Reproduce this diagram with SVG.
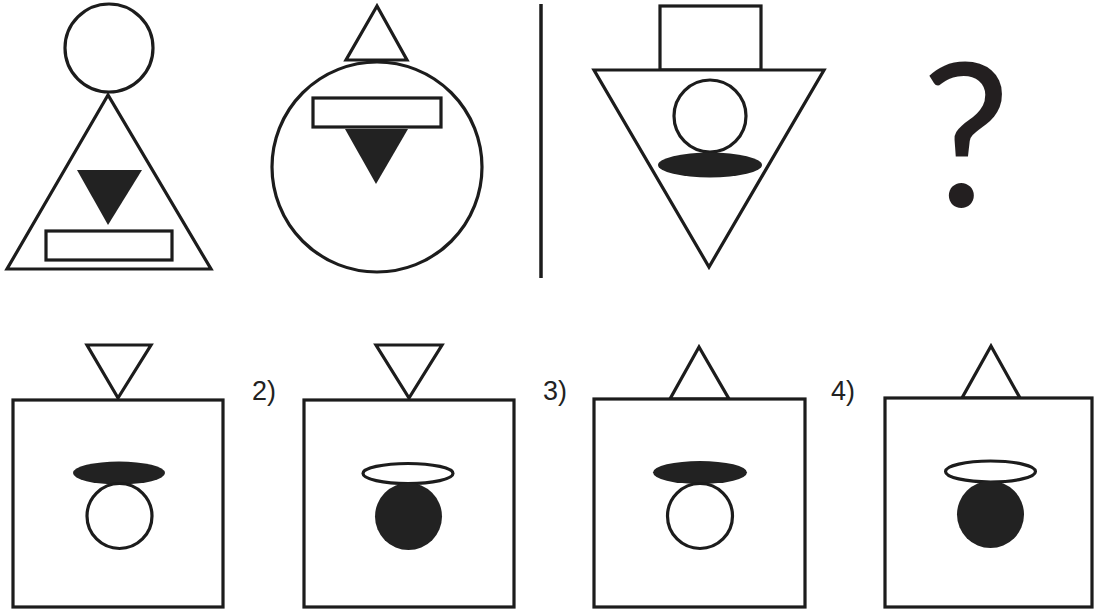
<svg xmlns="http://www.w3.org/2000/svg" width="1095" height="611" viewBox="0 0 1095 611">
<style>
.o{fill:#fff;stroke:#1c1c1c;stroke-width:3.2;stroke-linejoin:miter}
.f{fill:#222;stroke:none}
.lbl{font-family:"Liberation Sans",Arial,sans-serif;font-size:27px;fill:#222}
.q{font-family:Lato,"Open Sans",sans-serif;font-size:200px;fill:#231f20}
</style>
<rect width="1095" height="611" fill="#fff"/>
<g id="fig1">
<circle class="o" cx="109" cy="48" r="44"/>
<polygon class="o" points="108,95 7,269 211,269"/>
<polygon class="f" points="77,170 142,170 108,225"/>
<rect class="o" x="46" y="231" width="126" height="29"/>
</g>
<g id="fig2">
<polygon class="o" points="377,6 346,60 407,60"/>
<circle class="o" cx="377" cy="167" r="105"/>
<rect class="o" x="313" y="98" width="128" height="29"/>
<polygon class="f" points="345,129 408,129 376,184"/>
</g>
<g id="divider">
<line x1="541" y1="4" x2="541" y2="278" stroke="#1c1c1c" stroke-width="3.5"/>
</g>
<g id="fig3">
<rect class="o" x="660" y="6" width="101" height="64"/>
<polygon class="o" points="594,70 824,70 709,267"/>
<circle class="o" cx="710" cy="116" r="36"/>
<ellipse class="f" cx="710" cy="165" rx="52" ry="12.5"/>
</g>
<g id="question">
<text class="q" x="966" y="207" text-anchor="middle">?</text>
</g>
<g id="opt1">
<polygon class="o" points="87,345 151,345 118,398"/>
<rect class="o" x="13" y="400" width="210" height="207"/>
<ellipse class="f" cx="119" cy="473" rx="46" ry="11.5"/>
<circle class="o" cx="119.5" cy="516" r="32.5"/>
</g>
<text class="lbl" x="252" y="400">2)</text>
<g id="opt2">
<polygon class="o" points="376,345 442,345 409,398"/>
<rect class="o" x="304" y="400" width="210" height="207"/>
<ellipse class="o" cx="408" cy="473.5" rx="45" ry="10"/>
<circle class="f" cx="408.5" cy="516.5" r="33.5"/>
</g>
<text class="lbl" x="543" y="400">3)</text>
<g id="opt3">
<polygon class="o" points="699,347 670,399 729,399"/>
<rect class="o" x="594" y="399" width="211" height="208"/>
<ellipse class="f" cx="700" cy="472.5" rx="47" ry="11.5"/>
<circle class="o" cx="700" cy="516" r="32.5"/>
</g>
<text class="lbl" x="831" y="400">4)</text>
<g id="opt4">
<polygon class="o" points="991,346 962,398 1020,398"/>
<rect class="o" x="885" y="398" width="207" height="209"/>
<ellipse class="o" cx="990.5" cy="471.5" rx="45" ry="10.5"/>
<circle class="f" cx="990.5" cy="514.5" r="33.5"/>
</g>
</svg>
